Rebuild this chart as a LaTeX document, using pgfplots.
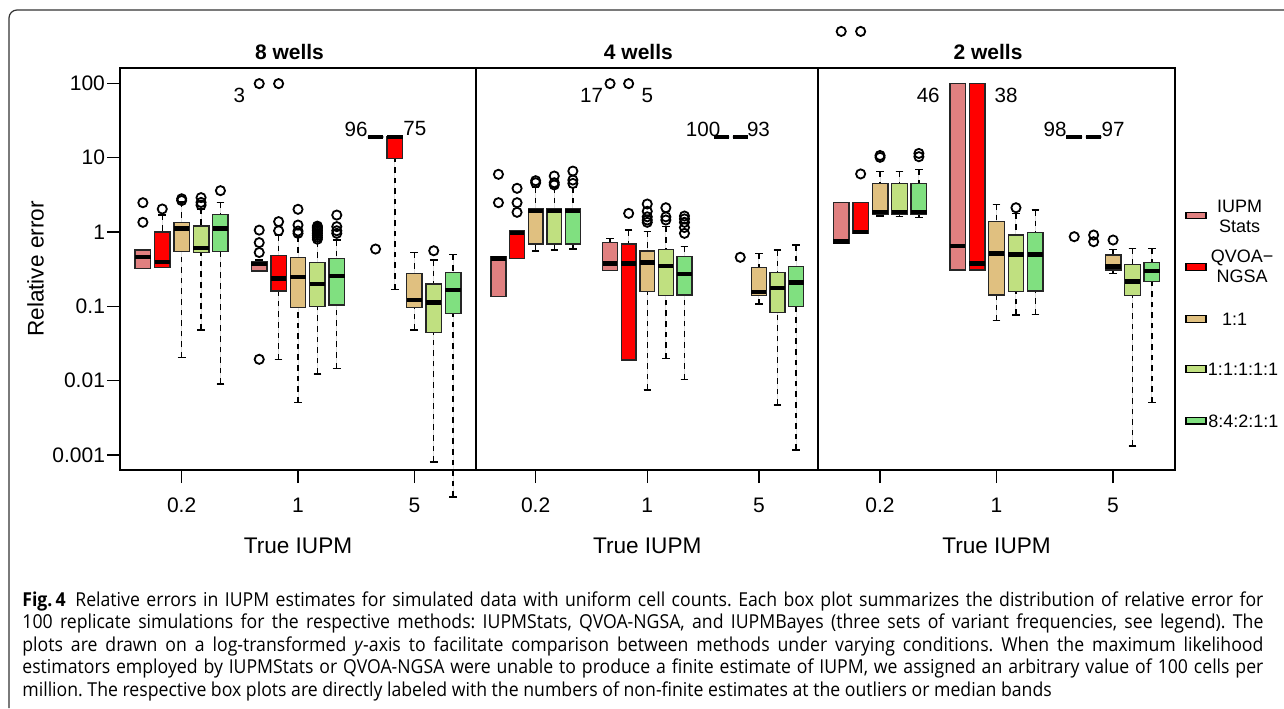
\documentclass[border=0pt]{standalone}
\usepackage{fontspec}
\setmainfont{Liberation Sans}
\newfontfamily\capfont[FakeStretch=0.92]{Open Sans}
\usepackage{pgfplots}
\pgfplotsset{compat=1.18}
\usepgfplotslibrary{statistics}

\definecolor{cA}{HTML}{E08080}
\definecolor{cB}{HTML}{FF0000}
\definecolor{cC}{HTML}{E0C080}
\definecolor{cD}{HTML}{C0E080}
\definecolor{cE}{HTML}{80E080}

\tikzset{
  ttl/.style={font=\bfseries\fontsize{10.5}{12}\selectfont},
  num/.style={font=\fontsize{10.3}{12}\selectfont},
  capline/.style={anchor=base west, inner sep=0pt, font=\capfont\fontsize{9.6}{11.25}\selectfont},
}

\pgfplotsset{
  boxplot/draw direction=y,
  boxplot/box extend=0.8,
  boxplot/whisker extend=0.4,
  boxplot/every median/.style={draw=black, line width=2.2pt},
  boxplot/draw/lower whisker/.code={%
    \draw[black, line width=0.7pt, dash pattern=on 2.8pt off 2.5pt]
      (boxplot cs:\pgfplotsboxplotvalue{lower whisker}) --
      (boxplot cs:\pgfplotsboxplotvalue{lower quartile});
    \draw[black, line width=0.7pt, solid]
      (boxplot whisker cs:\pgfplotsboxplotvalue{lower whisker},0) --
      (boxplot whisker cs:\pgfplotsboxplotvalue{lower whisker},1);
  },
  boxplot/draw/upper whisker/.code={%
    \draw[black, line width=0.7pt, dash pattern=on 2.8pt off 2.5pt]
      (boxplot cs:\pgfplotsboxplotvalue{upper whisker}) --
      (boxplot cs:\pgfplotsboxplotvalue{upper quartile});
    \draw[black, line width=0.7pt, solid]
      (boxplot whisker cs:\pgfplotsboxplotvalue{upper whisker},0) --
      (boxplot whisker cs:\pgfplotsboxplotvalue{upper whisker},1);
  },
  every axis/.append style={
    scale only axis, height=201pt,
    ymode=log, ymin=6.29e-4, ymax=160.7,
    xmin=-0.18, xmax=18.18,
    xtick={3,9,15}, xticklabels={0.2,1,5},
    tick align=outside, major tick length=6.5pt,
    xtick pos=bottom, ytick pos=left,
    yminorticks=false, xminorticks=false,
    clip=false,
    axis line style={line width=0.75pt},
    every tick/.style={black, line width=0.7pt},
    tick label style={font=\fontsize{10.5}{12}\selectfont},
    xticklabel style={yshift=-4pt},
    yticklabel style={xshift=2.5pt},
    xlabel={True IUPM},
    xlabel style={at={(rel axis cs:0.5,-0.189)}, anchor=center, font=\fontsize{11.3}{13}\selectfont},
    anchor=south west,
  },
}

% #1 colour, #2 position, #3 lower whisker, #4 Q1, #5 median, #6 Q3, #7 upper whisker, #8 outliers
\newcommand{\bx}[8]{%
  \addplot[draw=black!85, line width=0.7pt, solid, mark=o, mark size=2.3pt,
    mark options={solid, draw=black, line width=0.9pt},
    fill=#1, boxplot prepared={draw position=#2,
    lower whisker=#3, lower quartile=#4, median=#5,
    upper quartile=#6, upper whisker=#7}] coordinates {#8};
}

\begin{document}
\begin{tikzpicture}
\useasboundingbox (0,0) rectangle (642pt,354pt);
\draw[black!80, line width=0.6pt, rounded corners=4pt] (4.5pt,0pt) -- (4.5pt,349pt) -- (642pt,349pt);

% 8 wells
\begin{axis}[at={(60pt,119pt)}, width=178pt,
  ytick={0.001,0.01,0.1,1,10,100}, yticklabels={0.001,0.01,0.1,1,10,100},
  ylabel={Relative error},
  ylabel style={at={(rel axis cs:-0.2374,0.5)}, anchor=center, font=\fontsize{11.3}{13}\selectfont}]
\bx{cA}{1}{0.325}{0.325}{0.46}{0.573}{0.573}{(1,2.48) (1,1.35)}
\bx{cB}{2}{0.335}{0.335}{0.395}{1.0}{1.7}{(2,2.04)}
\bx{cC}{3}{0.0204}{0.543}{1.12}{1.35}{2.55}{(3,2.65) (3,2.8)}
\bx{cD}{4}{0.048}{0.527}{0.615}{1.2}{2.05}{(4,2.3) (4,2.5) (4,2.9)}
\bx{cE}{5}{0.009}{0.543}{1.12}{1.73}{2.5}{(5,3.6)}
\bx{cA}{7}{0.30}{0.30}{0.37}{0.398}{0.42}{(7,1.06) (7,0.72) (7,0.53) (7,0.0194) (7,99)}
\bx{cB}{8}{0.0194}{0.161}{0.238}{0.486}{0.91}{(8,1.38) (8,1.04) (8,99)}
\bx{cC}{9}{0.0051}{0.097}{0.246}{0.457}{0.865}{(9,2.02) (9,1.24) (9,1.03) (9,0.96)}
\bx{cD}{10}{0.0123}{0.099}{0.198}{0.391}{0.74}{(10,0.8) (10,0.85) (10,0.9) (10,0.95) (10,1.0) (10,1.05) (10,1.1) (10,1.15) (10,1.2)}
\bx{cE}{11}{0.0147}{0.104}{0.256}{0.443}{0.78}{(11,1.69) (11,1.18) (11,1.04) (11,0.96)}
\bx{cA}{13}{19}{19}{19}{19}{19}{(13,0.59)}
\bx{cB}{14}{0.17}{9.8}{19}{19}{19}{}
\bx{cC}{15}{0.048}{0.097}{0.122}{0.278}{0.533}{}
\bx{cD}{16}{0.00081}{0.0442}{0.113}{0.2}{0.42}{(16,0.56)}
\bx{cE}{17}{0.000272}{0.0805}{0.166}{0.284}{0.5}{}
\node[num] at (axis cs:5.97,69.6) {3};
\node[num] at (axis cs:12.0,24.3) {96};
\node[num] at (axis cs:15.03,24.3) {75};
\node[ttl] at (rel axis cs:0.476,1.0398) {8 wells};
\end{axis}

% 4 wells
\begin{axis}[at={(238.25pt,119pt)}, width=170.75pt, ytick=\empty]
\bx{cA}{1}{0.135}{0.135}{0.44}{0.466}{0.466}{(1,5.97) (1,2.48)}
\bx{cB}{2}{0.443}{0.443}{0.97}{1.04}{1.04}{(2,3.87) (2,2.48) (2,1.84)}
\bx{cC}{3}{0.555}{0.69}{1.93}{2.08}{4.0}{(3,4.6) (3,4.9)}
\bx{cD}{4}{0.57}{0.69}{1.93}{2.08}{4.0}{(4,5.66) (4,4.6) (4,4.3)}
\bx{cE}{5}{0.59}{0.69}{1.93}{2.08}{4.0}{(5,6.6) (5,5.0) (5,4.5)}
\bx{cA}{7}{0.302}{0.302}{0.379}{0.718}{0.82}{(7,99)}
\bx{cB}{8}{0.019}{0.019}{0.379}{0.69}{1.06}{(8,1.78) (8,99)}
\bx{cC}{9}{0.0075}{0.157}{0.391}{0.555}{1.01}{(9,2.38) (9,1.9) (9,1.6) (9,1.45) (9,1.35)}
\bx{cD}{10}{0.02}{0.139}{0.349}{0.585}{1.18}{(10,2.12) (10,1.6) (10,1.45)}
\bx{cE}{11}{0.0104}{0.142}{0.27}{0.466}{0.634}{(11,1.64) (11,1.5) (11,1.35) (11,1.15) (11,0.96)}
\bx{cA}{13}{19}{19}{19}{19}{19}{}
\bx{cB}{14}{19}{19}{19}{19}{19}{(14,0.457)}
\bx{cC}{15}{0.107}{0.139}{0.157}{0.335}{0.517}{}
\bx{cD}{16}{0.0047}{0.083}{0.175}{0.287}{0.57}{}
\bx{cE}{17}{0.00117}{0.099}{0.21}{0.342}{0.67}{}
\node[num] at (axis cs:6.01,69.6) {17};
\node[num] at (axis cs:9.01,69.6) {5};
\node[num] at (axis cs:12.0,24.3) {100};
\node[num] at (axis cs:14.98,24.3) {93};
\node[ttl] at (rel axis cs:0.474,1.0398) {4 wells};
\end{axis}

% 2 wells
\begin{axis}[at={(409.15pt,119pt)}, width=178.25pt, ytick=\empty]
\bx{cA}{1}{0.705}{0.705}{0.75}{2.48}{2.48}{(1,499)}
\bx{cB}{2}{0.96}{0.96}{1.0}{2.48}{2.48}{(2,6.04) (2,499)}
\bx{cC}{3}{1.64}{1.73}{1.86}{4.52}{6.47}{(3,10.7) (3,10.1)}
\bx{cD}{4}{1.61}{1.73}{1.86}{4.52}{6.47}{}
\bx{cE}{5}{1.58}{1.73}{1.86}{4.52}{6.97}{(5,11.4) (5,10.3)}
\bx{cA}{7}{0.308}{0.308}{0.648}{99}{99}{}
\bx{cB}{8}{0.308}{0.308}{0.379}{99}{99}{}
\bx{cC}{9}{0.064}{0.142}{0.516}{1.38}{2.36}{}
\bx{cD}{10}{0.0765}{0.157}{0.5}{0.91}{1.78}{(10,2.12)}
\bx{cE}{11}{0.078}{0.161}{0.5}{0.98}{1.98}{}
\bx{cA}{13}{19}{19}{19}{19}{19}{(13,0.865)}
\bx{cB}{14}{19}{19}{19}{19}{19}{(14,0.91) (14,0.74)}
\bx{cC}{15}{0.278}{0.308}{0.342}{0.49}{0.585}{(15,0.78)}
\bx{cD}{16}{0.00132}{0.139}{0.215}{0.368}{0.6}{}
\bx{cE}{17}{0.00506}{0.215}{0.299}{0.391}{0.6}{}
\node[num] at (axis cs:5.48,69.6) {46};
\node[num] at (axis cs:9.49,69.6) {38};
\node[num] at (axis cs:12.01,24.3) {98};
\node[num] at (axis cs:15.0,24.3) {97};
\node[ttl] at (rel axis cs:0.476,1.0398) {2 wells};
\end{axis}

% legend
\begin{scope}[font=\fontsize{9}{9.7}\selectfont]
\foreach \c/\yy in {cA/215.7, cB/267, cC/319, cD/369, cE/420.7}{
  \draw[black, line width=0.6pt, fill=\c] (593pt,{(708-\yy-3.2)*0.5pt}) rectangle (603pt,{(708-\yy+3.2)*0.5pt});
}
\node[align=center] at (619.75pt,{(708-216.5)*0.5pt}) {IUPM\\Stats};
\node[align=center] at (621pt,{(708-266.5)*0.5pt}) {QVOA−\\NGSA};
\node at (617.3pt,{(708-319)*0.5pt}) {1:1};
\node at (621.5pt,{(708-369)*0.5pt}) {1:1:1:1:1};
\node at (621.7pt,{(708-421)*0.5pt}) {8:4:2:1:1};
\end{scope}

% caption, one node per line
\frenchspacing
\node[capline] at (11pt,{(708-606)*0.5pt}) {\makebox[620.5pt][s]{\textbf{Fig.\,4}\enspace Relative errors in IUPM estimates for simulated data with uniform cell counts. Each box plot summarizes the distribution of relative error for}};
\node[capline] at (11pt,{(708-628.5)*0.5pt}) {\makebox[620.5pt][s]{100 replicate simulations for the respective methods: IUPMStats, QVOA-NGSA, and IUPMBayes (three sets of variant frequencies, see legend). The}};
\node[capline] at (11pt,{(708-651)*0.5pt}) {\makebox[620.5pt][s]{plots are drawn on a log-transformed \textit{y}-axis to facilitate comparison between methods under varying conditions. When the maximum likelihood}};
\node[capline] at (11pt,{(708-673.5)*0.5pt}) {\makebox[620.5pt][s]{estimators employed by IUPMStats or QVOA-NGSA were unable to produce a finite estimate of IUPM, we assigned an arbitrary value of 100 cells per}};
\node[capline] at (11pt,{(708-696)*0.5pt}) {million. The respective box plots are directly labeled with the numbers of non-finite estimates at the outliers or median bands};
\end{tikzpicture}
\end{document}
